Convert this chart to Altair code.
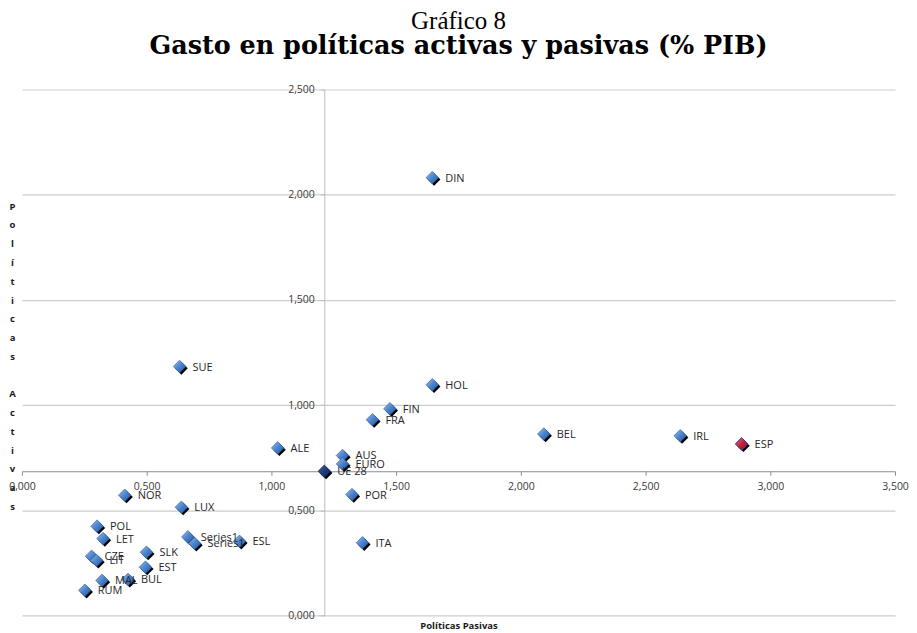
import altair as alt
import pandas as pd

# ---- data ----
paises = ["DIN", "SUE", "HOL", "FIN", "FRA", "ALE", "BEL", "IRL", "ESP", "AUS",
          "EURO", "UE 28", "POR", "ITA", "NOR", "LUX", "POL", "LET", "CZE", "LIT",
          "MAL", "BUL", "RUM", "SLK", "EST", "Series1", "Series1", "ESL"]
pasivas = [1.645, 0.632, 1.645, 1.475, 1.405, 1.025, 2.092, 2.639, 2.885, 1.285,
           1.285, 1.212, 1.323, 1.365, 0.412, 0.639, 0.301, 0.325, 0.279, 0.299,
           0.321, 0.425, 0.252, 0.499, 0.495, 0.665, 0.692, 0.872]
activas = [2.081, 1.183, 1.096, 0.982, 0.930, 0.796, 0.862, 0.854, 0.815, 0.760,
           0.720, 0.685, 0.574, 0.345, 0.571, 0.514, 0.424, 0.365, 0.281, 0.261,
           0.166, 0.171, 0.119, 0.300, 0.229, 0.373, 0.342, 0.352]
x_ticks = [0.0, 0.5, 1.0, 1.5, 2.0, 2.5, 3.0, 3.5]
y_ticks = [0.0, 0.5, 1.0, 1.5, 2.0, 2.5]

grupo = ["esp" if p == "ESP" else ("ue" if p == "UE 28" else "otros") for p in paises]
df = pd.DataFrame({"pais": paises, "pasivas": pasivas, "activas": activas, "grupo": grupo})

W, H = 875, 527
X_MAX, Y_MAX = x_ticks[-1], y_ticks[-1]
cruce_x = pasivas[paises.index("UE 28")]
cruce_y = activas[paises.index("UE 28")]
ax_x_px = cruce_x / X_MAX * W               # y-axis position inside plot
ax_y_px = (Y_MAX - cruce_y) / Y_MAX * H     # x-axis position inside plot

fmt = "replace(format(datum.value, '.3f'), '.', ',')"

y_title = ["P", "o", "l", "í", "t", "i", "c", "a", "s", "\u200b",
           "A", "c", "t", "i", "v", "a", "s"]

x_enc = alt.X(
    "pasivas:Q",
    scale=alt.Scale(domain=[0, X_MAX], nice=False, zero=True),
    axis=alt.Axis(
        orient="bottom", offset=ax_y_px - H, values=x_ticks, grid=False,
        labelExpr=fmt, labelFlush=False, labelOverlap=False,
        tickSize=4, tickColor="#8c8c8c", domainColor="#8c8c8c", domainWidth=1.2,
        labelPadding=6,
        title="Políticas Pasivas", titleX=W / 2, titleY=(H + 10) - ax_y_px,
        titleAlign="center", titleBaseline="middle",
        titleFont="Open Sans", titleFontSize=9.5, titleFontWeight="bold",
        titleColor="#1a1a1a",
    ),
)
y_enc = alt.Y(
    "activas:Q",
    scale=alt.Scale(domain=[0, Y_MAX], nice=False, zero=True),
    axis=alt.Axis(
        orient="left", offset=-ax_x_px, values=y_ticks, grid=True,
        gridColor="#cdcdcd", gridWidth=1.2,
        labelExpr=fmt, labelFlush=False, labelOverlap=False,
        tickSize=4, tickColor="#bdbdbd", domainColor="#bdbdbd",
        labelPadding=6,
        title=y_title, titleAngle=0, titleX=-10 - ax_x_px, titleY=112,
        titleAlign="center", titleBaseline="top", titleLineHeight=18.8,
        titleFont="Open Sans", titleFontSize=9.5, titleFontWeight="bold",
        titleColor="#1a1a1a",
    ),
)

def grad(c0, c1, c2):
    return alt.LinearGradient(
        gradient="linear", x1=0, y1=0, x2=1, y2=1,
        stops=[alt.GradientStop(color=c0, offset=0),
               alt.GradientStop(color=c1, offset=0.5),
               alt.GradientStop(color=c2, offset=1)],
    )

base = alt.Chart(df).encode(x=x_enc, y=y_enc)
SIZE = 160

sombra = base.mark_point(shape="diamond", filled=True, size=SIZE, color="black",
                         opacity=1, xOffset=1.8, yOffset=1.8)
azul = base.transform_filter("datum.grupo == 'otros'").mark_point(
    shape="diamond", filled=True, size=SIZE, opacity=1,
    fill=grad("#9cc0ec", "#4a82cc", "#22559f"), stroke="#2d5d9c", strokeWidth=0.6)
rojo = base.transform_filter("datum.grupo == 'esp'").mark_point(
    shape="diamond", filled=True, size=SIZE, opacity=1,
    fill=grad("#e9707f", "#c0223a", "#8c0f22"), stroke="#3b3f8f", strokeWidth=1)
ue = base.transform_filter("datum.grupo == 'ue'").mark_point(
    shape="diamond", filled=True, size=SIZE, opacity=1,
    fill=grad("#3f5e9e", "#1f3c7a", "#102759"), stroke="#102759", strokeWidth=0.6)
etiquetas = base.mark_text(align="left", baseline="middle", dx=13, dy=1,
                           font="Open Sans", fontSize=11, color="#262626").encode(text="pais:N")

chart = alt.layer(sombra, azul, rojo, ue, etiquetas).properties(
    width=W, height=H,
    autosize=alt.AutoSizeParams(type="none"),
    padding={"left": 14, "top": 81, "right": 14, "bottom": 15},
    title=alt.TitleParams(
        text="Gráfico 8",
        subtitle="Gasto en políticas activas y pasivas (% PIB)",
        font="Liberation Serif", fontSize=25, fontWeight="normal", color="black",
        subtitleFont="DejaVu Serif", subtitleFontSize=25.5,
        subtitleFontWeight="bold", subtitleColor="black",
        anchor="middle", offset=25, subtitlePadding=0,
    ),
).configure_view(stroke=None).configure_axis(
    labelFont="Open Sans", labelFontSize=10.5, labelColor="#3a3a3a",
)

chart.save("out.html", embed_options={"renderer": "svg", "actions": False})
